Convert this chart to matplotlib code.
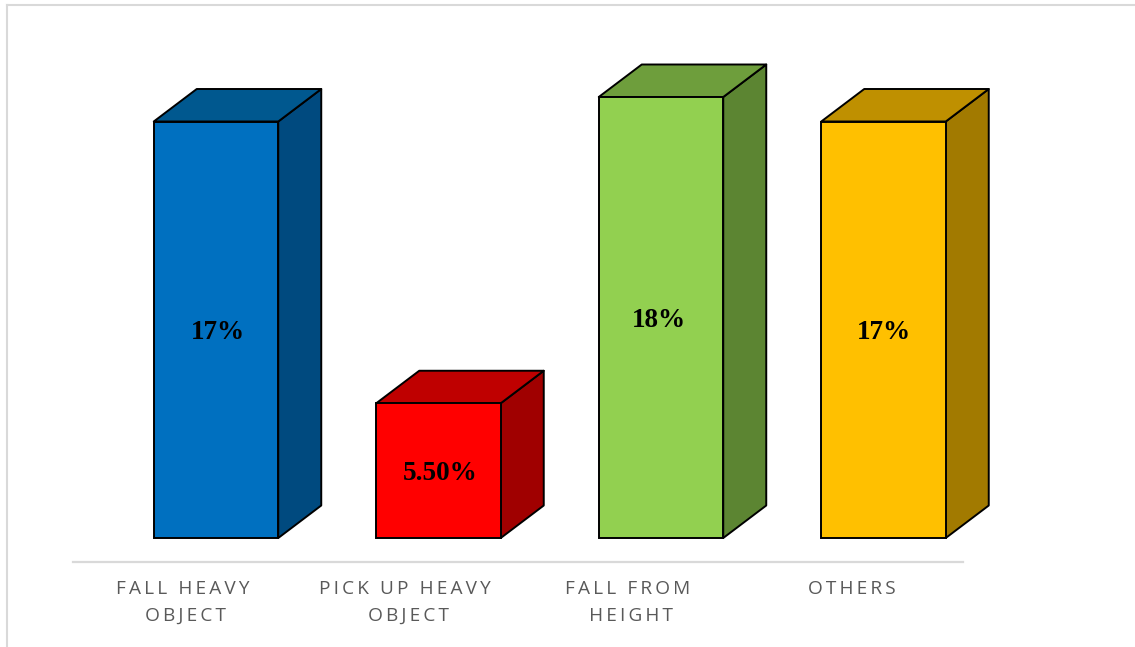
import matplotlib
matplotlib.use("Agg")
import matplotlib.pyplot as plt
from matplotlib.patches import Polygon
from matplotlib.lines import Line2D

categories = ["FALL HEAVY\nOBJECT", "PICK UP HEAVY\nOBJECT", "FALL FROM\nHEIGHT", "OTHERS"]
values = [17, 5.5, 18, 17]
value_labels = ["17%", "5.50%", "18%", "17%"]
front_colors = ["#0070C0", "#FF0000", "#92D050", "#FFC000"]
top_colors = ["#00588F", "#BF0000", "#6E9E3C", "#BF9000"]
side_colors = ["#004A7F", "#A00000", "#5C8532", "#A27A00"]
label_nudge_pt = [1.4, 1.0, -1.5, 0.0]

W, H = 1135, 647
PX_PER_UNIT_Y = 24.5
PX_PER_UNIT_X = 222.5
BASE_Y_PX, AXIS_Y_PX, AXES_TOP_PX = 538, 562, 20
AXIS_L_PX, AXIS_R_PX = 73, 963

fig = plt.figure(figsize=(W / 100, H / 100), dpi=100, facecolor="white")
ax = fig.add_axes([AXIS_L_PX / W, 1 - AXIS_Y_PX / H, (AXIS_R_PX - AXIS_L_PX) / W, (AXIS_Y_PX - AXES_TOP_PX) / H])
ax.set_facecolor("none")
ax.set_xlim(-0.5, 3.5)
ax.set_ylim(-(AXIS_Y_PX - BASE_Y_PX) / PX_PER_UNIT_Y, (BASE_Y_PX - AXES_TOP_PX) / PX_PER_UNIT_Y)

bar_offset = -30.5 / PX_PER_UNIT_X
bar_width = 124.5 / PX_PER_UNIT_X
depth_x = 43 / PX_PER_UNIT_X
depth_y = 32.5 / PX_PER_UNIT_Y
EDGE = dict(edgecolor="black", linewidth=1.4, joinstyle="round", clip_on=False)

positions = range(len(values))
for i, v, fc, tc, sc, lab, nudge in zip(positions, values, front_colors, top_colors, side_colors, value_labels, label_nudge_pt):
    left = i + bar_offset
    right = left + bar_width
    ax.add_patch(Polygon([(right, 0), (right + depth_x, depth_y), (right + depth_x, v + depth_y), (right, v)],
                         closed=True, facecolor=sc, zorder=2, **EDGE))
    ax.add_patch(Polygon([(left, v), (left + depth_x, v + depth_y), (right + depth_x, v + depth_y), (right, v)],
                         closed=True, facecolor=tc, zorder=2, **EDGE))
    ax.bar(left, v, width=bar_width, align="edge", color=fc, zorder=3, edgecolor="black", linewidth=1.4, clip_on=False)
    ax.annotate(lab, (left + bar_width / 2, v / 2), xytext=(nudge, -2.2), textcoords="offset points",
                ha="center", va="center", zorder=4,
                family="Liberation Serif", fontweight="bold", fontsize=19.6, color="black")

for s in ["top", "left", "right"]:
    ax.spines[s].set_visible(False)
ax.spines["bottom"].set_color("#D9D9D9")
ax.spines["bottom"].set_linewidth(1.6)
ax.set_yticks([])
ax.set_xticks(list(positions))
ax.set_xticklabels(["\u2009".join(c) for c in categories], family=["Open Sans", "DejaVu Sans"], fontsize=13.7,
                   color="#595959", linespacing=1.61)
ax.tick_params(axis="x", length=0, pad=13)

# outer chart frame (top and left only are visible in the crop)
fig.add_artist(Line2D([7 / W, 7 / W], [0, 1 - 5 / H], color="#D9D9D9", lw=1.5))
fig.add_artist(Line2D([7 / W, 1], [1 - 5 / H, 1 - 5 / H], color="#D9D9D9", lw=1.5))

fig.savefig("out.png", dpi=100)
